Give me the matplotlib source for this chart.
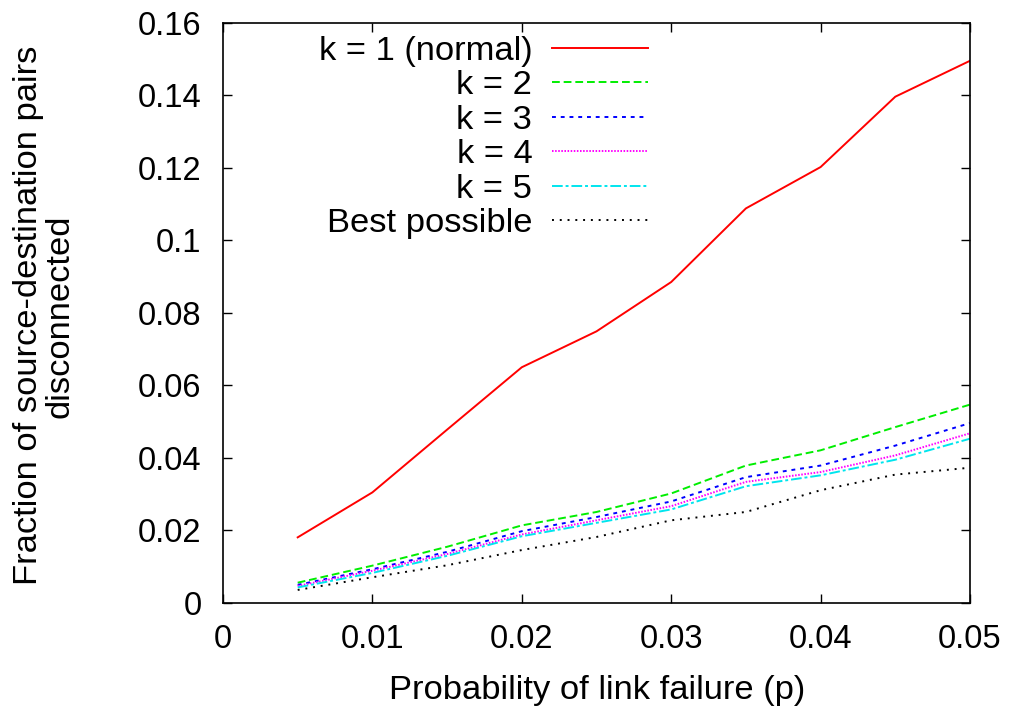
import matplotlib.pyplot as plt
from matplotlib.ticker import FuncFormatter

plt.rcParams['font.family'] = ['Liberation Sans', 'DejaVu Sans']

p = [0.005, 0.01, 0.015, 0.02, 0.025, 0.03, 0.035, 0.04, 0.045, 0.05]
k1 = [0.0181, 0.0305, 0.0478, 0.0650, 0.0749, 0.0885, 0.1088, 0.1202, 0.1396, 0.1495]
k2 = [0.0056, 0.0103, 0.0155, 0.0214, 0.0251, 0.0302, 0.0379, 0.0421, 0.0485, 0.0547]
k3 = [0.0050, 0.0093, 0.0141, 0.0198, 0.0237, 0.0280, 0.0347, 0.0379, 0.0434, 0.0496]
k4 = [0.0047, 0.0089, 0.0135, 0.0189, 0.0228, 0.0267, 0.0334, 0.0361, 0.0407, 0.0468]
k5 = [0.0043, 0.0083, 0.0130, 0.0184, 0.0221, 0.0258, 0.0322, 0.0352, 0.0395, 0.0453]
best = [0.0036, 0.0071, 0.0104, 0.0146, 0.0182, 0.0228, 0.0251, 0.0311, 0.0354, 0.0373]

labels = ['k = 1 (normal)', 'k = 2', 'k = 3', 'k = 4', 'k = 5', 'Best possible']

fs = 24.8

fig = plt.figure(figsize=(10.1, 7.08), dpi=100)
# frame: x 223..970, y 22.7..603 px
ax = fig.add_axes([223 / 1010, 1 - 603 / 708, 747 / 1010, 580.3 / 708])

lw = 1.4
ax.plot(p, k1, color='#ff0000', lw=lw, ls='-', label=labels[0])
ax.plot(p, k2, color='#00ee00', lw=lw, ls=(0, (4, 2)), label=labels[1])
ax.plot(p, k3, color='#0000ff', lw=lw, ls=(0, (2, 2.5)), label=labels[2])
ax.plot(p, k4, color='#ff00ff', lw=lw, ls=(0, (0.8, 0.8)), label=labels[3])
ax.plot(p, k5, color='#00e5ee', lw=lw, ls=(0, (5.5, 1.5, 1.5, 1.5)), label=labels[4])
ax.plot(p, best, color='black', lw=lw, ls=(0, (1, 3)), label=labels[5])

ax.set_xlim(0, 0.05)
ax.set_ylim(0, 0.16)
ax.set_xticks([0, 0.01, 0.02, 0.03, 0.04, 0.05])
ax.set_yticks([0, 0.02, 0.04, 0.06, 0.08, 0.1, 0.12, 0.14, 0.16])
fmt = FuncFormatter(lambda v, pos: '%g' % round(v, 4))
ax.xaxis.set_major_formatter(fmt)
ax.yaxis.set_major_formatter(fmt)
ax.tick_params(direction='in', length=6.3, width=1, top=True, right=True,
               labelsize=23.5)
ax.tick_params(axis='y', pad=15.5)
ax.tick_params(axis='x', pad=15)
for s in ax.spines.values():
    s.set_linewidth(1.2)

ax.set_xlabel('Probability of link failure (p)', fontsize=fs, va='top')
ax.xaxis.set_label_coords(0.501, -0.124)
ax.set_ylabel('Fraction of source-destination pairs\ndisconnected', fontsize=fs,
              linespacing=1.0)
ax.yaxis.set_label_coords(-0.198, 0.495)

ax.legend(loc='upper right', bbox_to_anchor=(0.569, 0.978), frameon=False,
          markerfirst=False, fontsize=24.8, handlelength=2.8, handletextpad=0.56,
          labelspacing=0.1, borderpad=0, borderaxespad=0)

fig.savefig('out.png', dpi=100)
